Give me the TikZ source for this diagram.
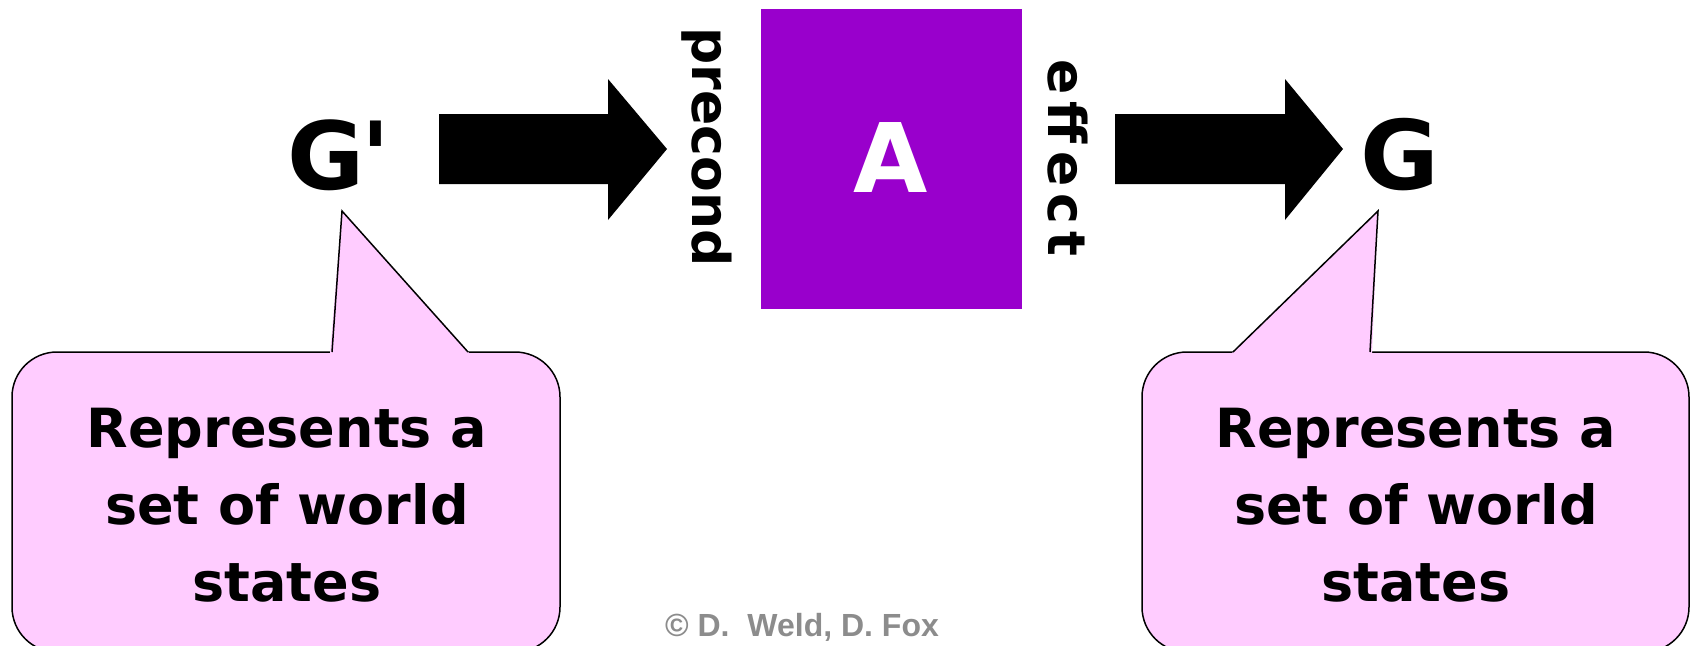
\documentclass[tikz,border=0pt]{standalone}
\usepackage{fontspec}
\newfontfamily\comicfont{DejaVu Sans}
\newfontfamily\arialfont{Liberation Sans}
\definecolor{actpurple}{HTML}{9900CC}
\definecolor{calloutpink}{HTML}{FFCCFF}
\definecolor{copygray}{HTML}{8C8C8C}
\begin{document}
\begin{tikzpicture}[x=1pt,y=-1pt,
  bigletter/.style={inner sep=0pt, font=\comicfont\bfseries\fontsize{96}{110}\selectfont},
  sidelabel/.style={inner sep=0pt, rotate=-90, font=\comicfont\bfseries\fontsize{52}{60}\selectfont},
  callouttext/.style={inner sep=0pt, align=center, font=\comicfont\bfseries\fontsize{54}{77}\selectfont},
  blockarrow/.style={fill=black},
  calloutbody/.style={fill=calloutpink, draw=black, line width=1.5pt, rounded corners=45pt},
  calloutedge/.style={draw=black, line width=1.5pt, line join=miter}
]
\useasboundingbox (0,0) rectangle (1694,645);

% action box
\node[fill=actpurple, minimum width=261pt, minimum height=300pt, inner sep=0pt] (act) at (891.5,158.5) {};
\node[bigletter, text=white] (A) at (891,158) {A};

% states
\node[bigletter, font=\comicfont\bfseries\fontsize{94}{106}\selectfont] (Gp) at (339,155) {G\kern-3pt\char"0027};
\node[bigletter] (G) at (1400,155) {G};

% side labels
\node[sidelabel] (pre) at (707,147) {precond};
\node[sidelabel, font=\comicfont\bfseries\fontsize{52}{60}\selectfont\addfontfeatures{LetterSpace=14}] (eff) at (1068,158) {effect};

% block arrows
\coordinate (a1s) at (439,149);
\coordinate (a2s) at (1115,149);
\path[blockarrow] (a1s) ++(0,-35) -- ++(169,0) -- ++(0,-35) -- ++(59,70) -- ++(-59,71) -- ++(0,-36) -- ++(-169,0) -- cycle;
\path[blockarrow] (a2s) ++(0,-35) -- ++(170,0) -- ++(0,-35) -- ++(58,70) -- ++(-58,71) -- ++(0,-36) -- ++(-170,0) -- cycle;

% left callout
\coordinate (t1) at (342,211);
\draw[calloutbody] (12,352) rectangle (560,652);
\fill[calloutpink] (330,354) -- (t1) -- (470,354) -- cycle;
\draw[calloutedge] (332,352) -- (t1) -- (468,352);
\node[callouttext] (c1) at (287,505) {Represents a\\set of world\\states};

% right callout
\coordinate (t2) at (1378,211);
\draw[calloutbody] (1142,352) rectangle (1689,652);
\fill[calloutpink] (1231,354) -- (t2) -- (1372,354) -- cycle;
\draw[calloutedge] (1233,352) -- (t2) -- (1370,352);
\node[callouttext] (c2) at (1416,505) {Represents a\\set of world\\states};

% copyright
\node[inner sep=0pt, text=copygray, font=\arialfont\bfseries\fontsize{32}{38}\selectfont] (copy) at (802,627) {\textcopyright\ D.\ \ Weld, D. Fox};
\end{tikzpicture}
\end{document}
